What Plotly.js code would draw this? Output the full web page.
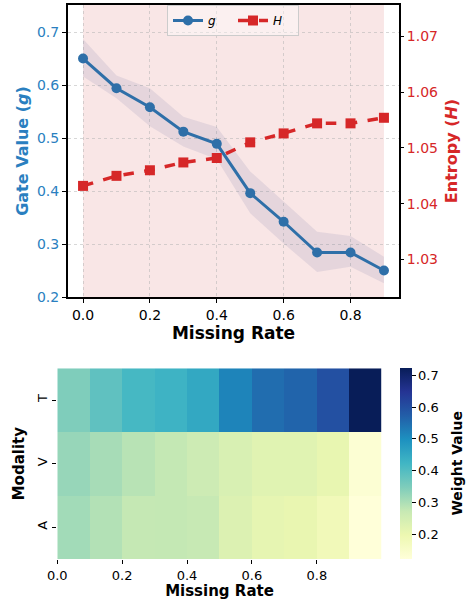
<!DOCTYPE html>
<html>
<head>
<meta charset="utf-8">
<script src="https://cdn.plot.ly/plotly-3.0.1.min.js"></script>
<style>html,body{margin:0;padding:0;background:#fff;}#chart{width:468px;height:600px;}</style>
</head>
<body>
<div id="chart"></div>
<script>
// ---- data ----
const missingRate = [0.0, 0.1, 0.2, 0.3, 0.4, 0.5, 0.6, 0.7, 0.8, 0.9];
const gateValue   = [0.650, 0.594, 0.558, 0.512, 0.489, 0.396, 0.342, 0.284, 0.284, 0.250];
const gateUpper   = [0.687, 0.618, 0.594, 0.540, 0.521, 0.437, 0.380, 0.323, 0.315, 0.276];
const gateLower   = [0.616, 0.575, 0.522, 0.484, 0.460, 0.358, 0.301, 0.247, 0.257, 0.226];
const entropy     = [1.0432, 1.0450, 1.0460, 1.0474, 1.0482, 1.0510, 1.0526, 1.0544, 1.0544, 1.0554];
const modalities  = ['A', 'V', 'T'];
const weightA = [0.311, 0.293, 0.274, 0.275, 0.272, 0.231, 0.211, 0.206, 0.182, 0.122];
const weightV = [0.322, 0.306, 0.288, 0.275, 0.260, 0.238, 0.223, 0.223, 0.207, 0.133];
const weightT = [0.347, 0.385, 0.417, 0.429, 0.451, 0.517, 0.551, 0.564, 0.597, 0.723];
const gTicks = [0.2, 0.3, 0.4, 0.5, 0.6, 0.7];
const hTicks = [1.03, 1.04, 1.05, 1.06, 1.07];
const rateTicks = [0.0, 0.2, 0.4, 0.6, 0.8];

// ---- styles ----
const FONT = 'DejaVu Sans';
const BLUE = '#2e6fa8';
const BLUE_TXT = '#2a7fc0';
const RED = '#d62728';
const GRID = 'rgba(175,175,175,0.5)';
const step = missingRate[1] - missingRate[0];
const cellEdges = missingRate.concat([missingRate[missingRate.length - 1] + step]);

const ylgnbu = [
  [0.0, '#ffffd9'], [0.125, '#edf8b1'], [0.25, '#c7e9b4'], [0.375, '#7fcdbb'],
  [0.5, '#41b6c4'], [0.625, '#1d91c0'], [0.75, '#225ea8'], [0.875, '#253494'], [1.0, '#081d58']
];

const traces = [
  {x: missingRate, y: gateUpper, xaxis: 'x', yaxis: 'y', mode: 'lines',
   line: {width: 0, color: 'rgba(0,0,0,0)'}, showlegend: false, hoverinfo: 'skip'},
  {x: missingRate, y: gateLower, xaxis: 'x', yaxis: 'y', mode: 'lines', fill: 'tonexty',
   fillcolor: 'rgba(70,80,150,0.11)', line: {width: 0, color: 'rgba(0,0,0,0)'}, showlegend: false, hoverinfo: 'skip'},
  {x: missingRate, y: gateValue, xaxis: 'x', yaxis: 'y', mode: 'lines+markers', name: '<i>g</i>',
   line: {color: BLUE, width: 3}, marker: {color: BLUE, size: 10, symbol: 'circle'}},
  {x: missingRate, y: entropy, xaxis: 'x', yaxis: 'y2', mode: 'lines+markers', name: '<i>H</i>',
   line: {color: RED, width: 3.5, dash: 'dash'}, marker: {color: RED, size: 10, symbol: 'square'}},
  {type: 'heatmap', x: cellEdges, y: modalities, z: [weightA, weightV, weightT],
   xaxis: 'x2', yaxis: 'y3', colorscale: ylgnbu, showscale: true,
   colorbar: {x: 400/468, xanchor: 'left', xref: 'paper', xpad: 0, ypad: 0, thickness: 12,
     y: 1 - 559/600, yanchor: 'bottom', len: (559 - 368.3)/600, lenmode: 'fraction',
     outlinewidth: 0, ticks: 'outside', ticklen: 4, tickcolor: '#000', tickwidth: 1,
     tickvals: gTicks, tickformat: '.1f',
     tickfont: {family: FONT, size: 13, color: '#000'}}}
];

const layout = {
  width: 468, height: 600,
  margin: {l: 0, r: 0, t: 0, b: 0, autoexpand: false},
  paper_bgcolor: '#fff', plot_bgcolor: '#fff',
  font: {family: FONT, color: '#000'},
  showlegend: true,
  legend: {orientation: 'h', traceorder: 'normal', x: 233/468, xanchor: 'center', y: 1 - 5/600, yanchor: 'top',
    bgcolor: 'rgba(255,255,255,0.4)', bordercolor: '#cccccc', borderwidth: 1,
    font: {family: FONT, size: 12, color: '#000'}, entrywidth: 20, entrywidthmode: 'pixels'},
  xaxis: {domain: [68/468, 399/468], anchor: 'y', range: [-0.045, 0.945],
    tickvals: rateTicks, tickformat: '.1f', ticks: 'outside', ticklen: 4, tickcolor: '#000',
    tickfont: {family: FONT, size: 14, color: '#000'},
    showline: true, linecolor: '#000', linewidth: 2, mirror: true,
    showgrid: true, gridcolor: GRID, griddash: 'dot', gridwidth: 1, zeroline: false,
    title: {text: '<b>Missing Rate</b>', font: {family: FONT, size: 17, color: '#000'}, standoff: 3}},
  yaxis: {domain: [1 - 297/600, 1 - 5/600], anchor: 'x', range: [0.2, 0.751],
    tickvals: gTicks, tickformat: '.1f', ticks: 'outside', ticklen: 4, tickcolor: '#000',
    tickfont: {family: FONT, size: 14, color: BLUE_TXT},
    showline: true, linecolor: '#000', linewidth: 2, mirror: true, zeroline: false,
    showgrid: true, gridcolor: GRID, griddash: 'dot', gridwidth: 1,
    title: {text: '<b>Gate Value (<i>g</i>)</b>', font: {family: FONT, size: 16, color: BLUE_TXT}, standoff: 4}},
  yaxis2: {overlaying: 'y', side: 'right', anchor: 'x', range: [1.0233, 1.0756],
    tickvals: hTicks, tickformat: '.2f', ticks: 'outside', ticklen: 4, tickcolor: '#000',
    tickfont: {family: FONT, size: 14, color: RED}, showgrid: false, zeroline: false,
    title: {text: '<b>Entropy (<i>H</i>)</b>', font: {family: FONT, size: 16, color: RED}, standoff: 8}},
  xaxis2: {domain: [57.3/468, 381.7/468], anchor: 'y3', range: [cellEdges[0], cellEdges[cellEdges.length - 1]],
    tickvals: rateTicks, tickformat: '.1f', ticks: 'outside', ticklen: 4, tickcolor: '#000',
    tickfont: {family: FONT, size: 13, color: '#000'}, showgrid: false, zeroline: false, showline: false,
    title: {text: '<b>Missing Rate</b>', font: {family: FONT, size: 15, color: '#000'}, standoff: 1}},
  yaxis3: {domain: [1 - 559/600, 1 - 368.3/600], anchor: 'x2', type: 'category',
    ticks: 'outside', ticklen: 4, tickcolor: '#000', tickangle: -90,
    tickfont: {family: FONT, size: 13, color: '#000'}, showgrid: false, zeroline: false, showline: false,
    title: {text: '<b>Modality</b>', font: {family: FONT, size: 15, color: '#000'}, standoff: 6}},
  annotations: [{text: '<b>Weight Value</b>', xref: 'paper', yref: 'paper', x: 457/468, y: 1 - 463.6/600,
    xanchor: 'center', yanchor: 'middle', textangle: -90, showarrow: false,
    font: {family: FONT, size: 14, color: '#000'}}],
  shapes: [{type: 'rect', xref: 'x', yref: 'y domain', x0: missingRate[0], x1: missingRate[missingRate.length - 1],
    y0: 0, y1: 1, fillcolor: '#f9e6e6', line: {width: 0}, layer: 'below'}]
};

Plotly.newPlot('chart', traces, layout, {staticPlot: true, displayModeBar: false});
</script>
</body>
</html>
